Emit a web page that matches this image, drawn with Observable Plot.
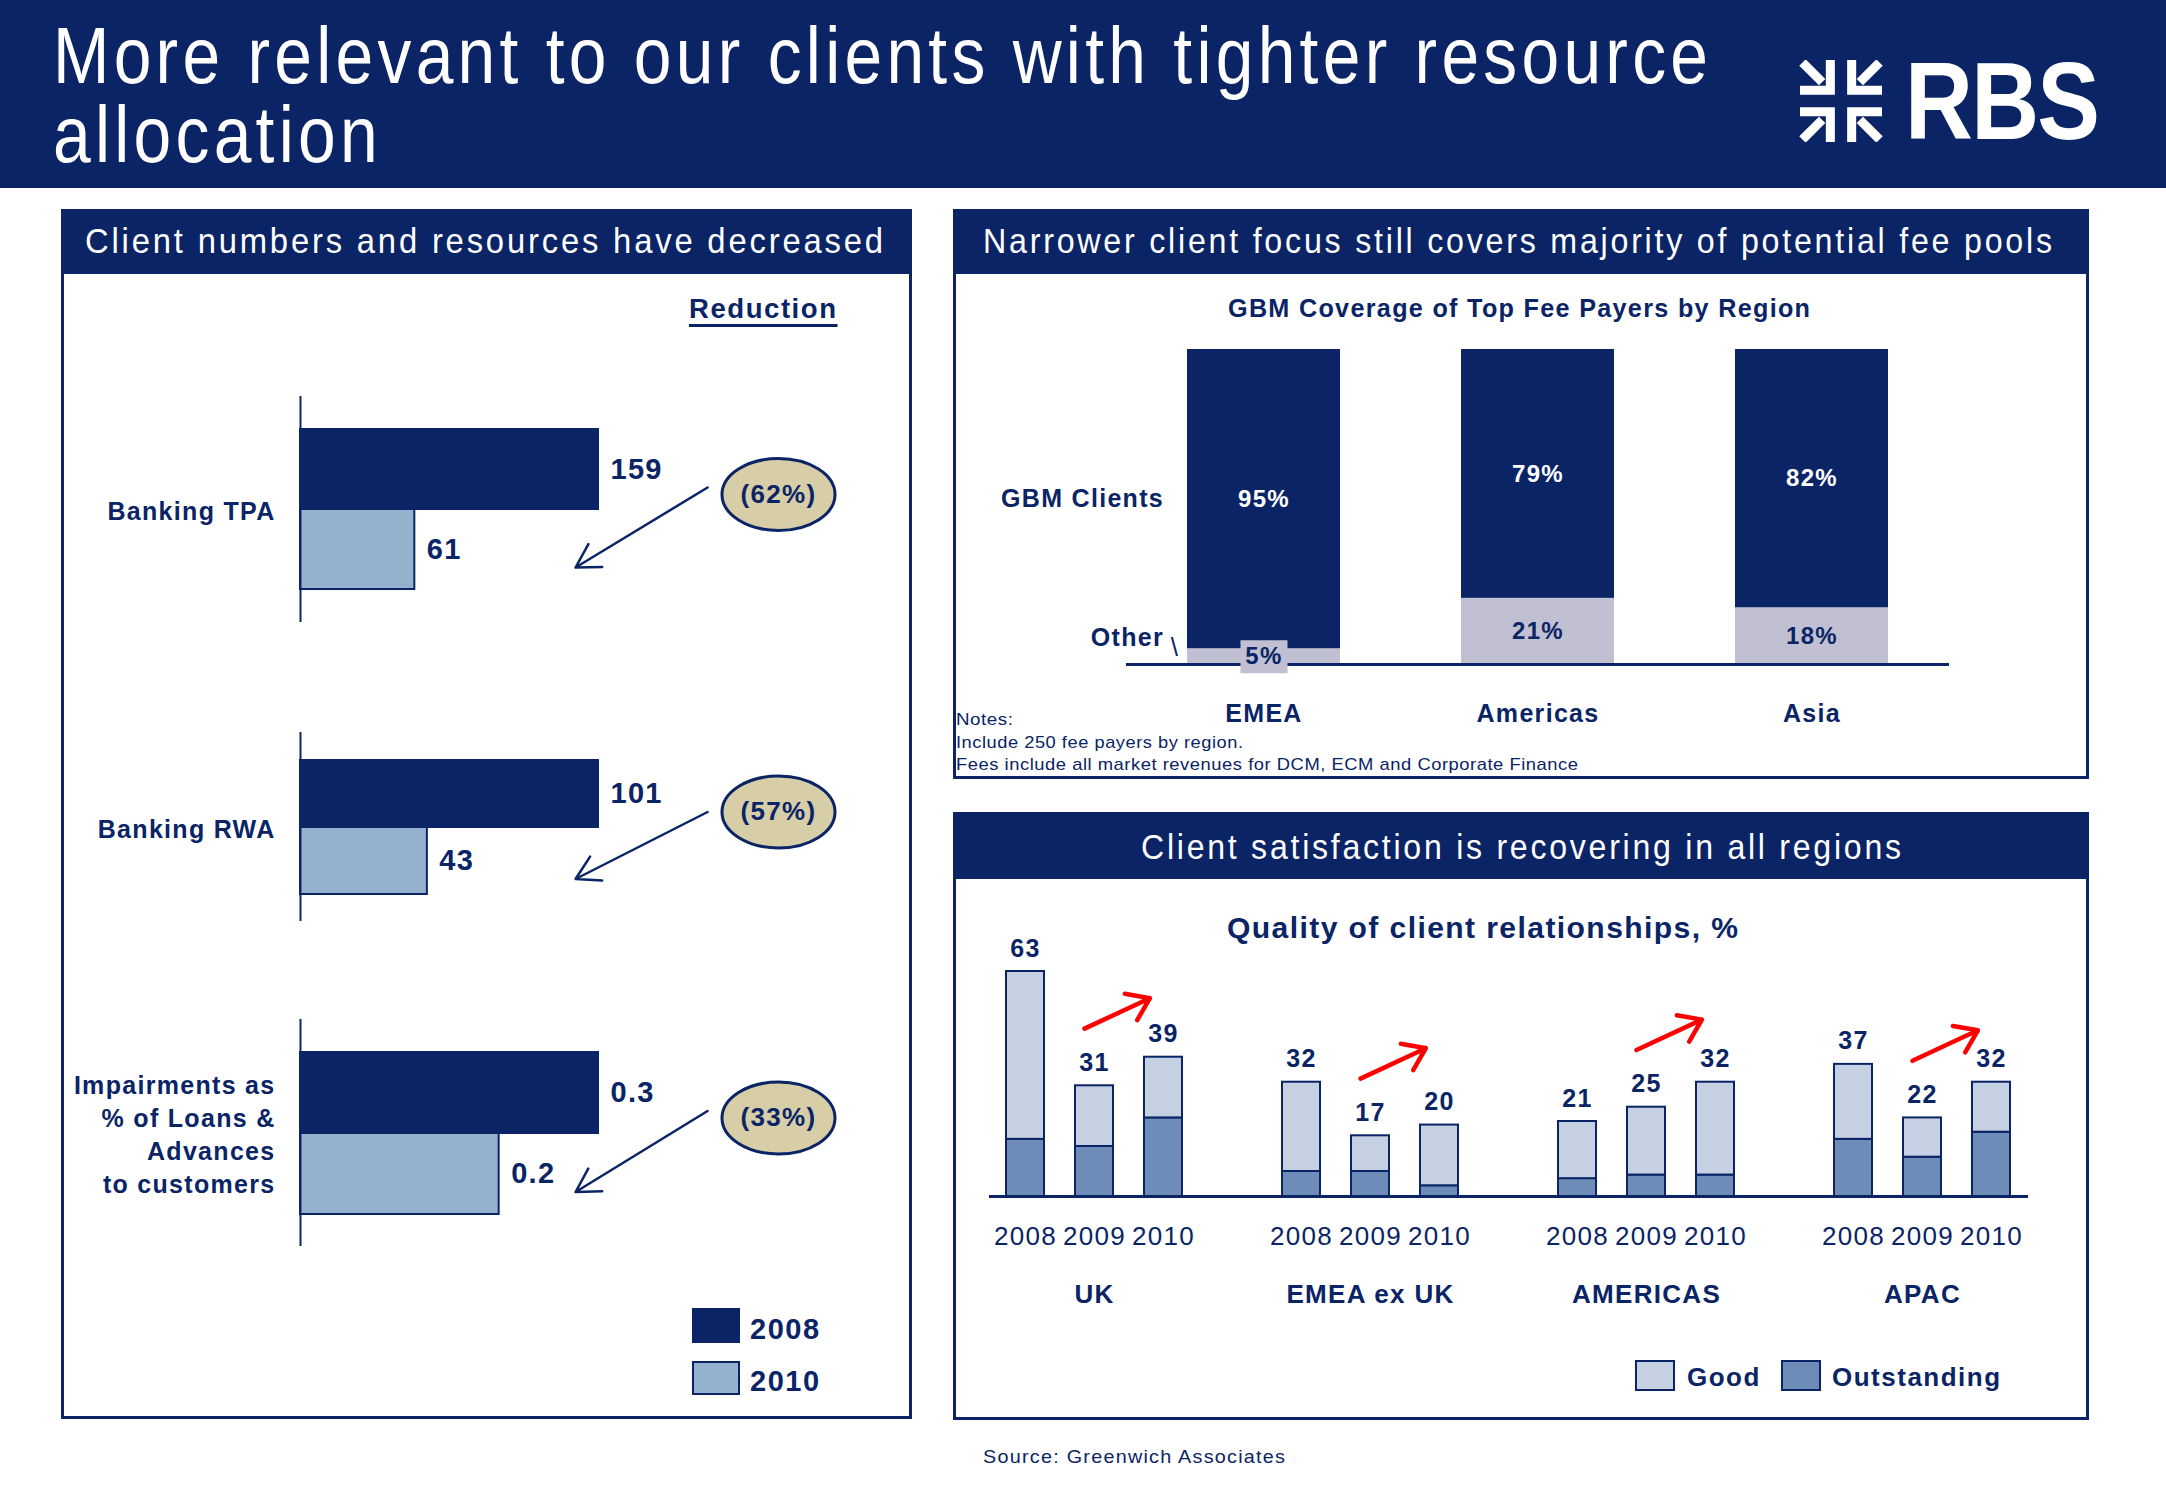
<!DOCTYPE html>
<html><head><meta charset="utf-8">
<script src="https://cdn.jsdelivr.net/npm/d3@7"></script>
<script src="https://cdn.jsdelivr.net/npm/@observablehq/plot@0.6"></script>
<style>
html,body{margin:0;padding:0}
body{width:2166px;height:1500px;background:#fff;position:relative;overflow:hidden;font-family:"Liberation Sans",Arial,sans-serif;color:#0a2466}
.abs{position:absolute}
.fit{position:absolute;white-space:nowrap;display:inline-block;transform-origin:0 50%}
.box{position:absolute;border:3px solid #0a2466;box-sizing:border-box}
.bar{position:absolute;background:#0a2466}
.sw{position:absolute;box-sizing:border-box}
</style></head><body>

<div class="bar" style="left:0;top:0;width:2166px;height:188px"></div>
<div class="fit" data-w="1655" style="left:53px;top:16px;font-size:79px;line-height:79px;color:#fff;letter-spacing:5px;transform-origin:0 0">More relevant to our clients with tighter resource<br>allocation</div>

<svg class="abs" style="left:1797px;top:60px" width="88" height="82" viewBox="0 0 100 100">
  <defs><g id="q" fill="none" stroke="#fff" stroke-width="11"><path d="M3,3 L27,27"/><path d="M0,37 H37 V0"/></g></defs>
  <use href="#q"/>
  <use href="#q" transform="translate(100,0) scale(-1,1)"/>
  <use href="#q" transform="translate(0,100) scale(1,-1)"/>
  <use href="#q" transform="translate(100,100) scale(-1,-1)"/>
</svg>
<div class="fit" data-w="195" style="left:1905px;top:47px;font-size:109px;line-height:109px;color:#fff;font-weight:bold;letter-spacing:-2px">RBS</div>

<!-- panels -->
<div class="box" style="left:61px;top:209px;width:851px;height:1210px"></div>
<div class="bar" style="left:61px;top:209px;width:851px;height:65px"></div>
<div class="fit" data-w="798" style="left:85px;top:223px;font-size:35px;line-height:35px;color:#fff;letter-spacing:3px">Client numbers and resources have decreased</div>

<div class="box" style="left:953px;top:209px;width:1136px;height:570px"></div>
<div class="bar" style="left:953px;top:209px;width:1136px;height:65px"></div>
<div class="fit" data-w="1069" style="left:983px;top:223px;font-size:35px;line-height:35px;color:#fff;letter-spacing:3px">Narrower client focus still covers majority of potential fee pools</div>

<div class="box" style="left:953px;top:812px;width:1136px;height:608px"></div>
<div class="bar" style="left:953px;top:812px;width:1136px;height:67px"></div>
<div class="fit" data-w="760" style="left:1141px;top:829px;font-size:35px;line-height:35px;color:#fff;letter-spacing:3px">Client satisfaction is recovering in all regions</div>

<!-- left panel extras -->
<div class="fit" data-w="147" style="left:689px;top:296px;font-size:27px;line-height:27px;font-weight:bold;letter-spacing:1.5px;text-decoration:underline;text-decoration-thickness:3px;text-underline-offset:6px">Reduction</div>
<div class="sw" style="left:692px;top:1308px;width:48px;height:35px;background:#0a2466"></div>
<div class="sw" style="left:692px;top:1361px;width:48px;height:34px;background:#94b1cd;border:2px solid #0a2466"></div>
<div class="abs" id="lg1" style="left:750px;top:1315px;font-size:29px;line-height:29px;font-weight:bold;letter-spacing:1.5px"></div>
<div class="abs" id="lg2" style="left:750px;top:1367px;font-size:29px;line-height:29px;font-weight:bold;letter-spacing:1.5px"></div>

<!-- top right extras -->
<div class="fit" data-w="582" style="left:1228px;top:296px;font-size:25px;line-height:25px;font-weight:bold;letter-spacing:1.3px">GBM Coverage of Top Fee Payers by Region</div>
<div class="fit" data-w="57" style="left:956px;top:711px;font-size:17px;line-height:17px;letter-spacing:0.5px">Notes:</div>
<div class="fit" data-w="287" style="left:956px;top:734px;font-size:17px;line-height:17px;letter-spacing:0.5px">Include 250 fee payers by region.</div>
<div class="fit" data-w="622" style="left:956px;top:756px;font-size:17px;line-height:17px;letter-spacing:0.5px">Fees include all market revenues for DCM, ECM and Corporate Finance</div>

<!-- bottom right extras -->
<div class="fit" data-w="511" style="left:1227px;top:913px;font-size:30px;line-height:30px;font-weight:bold;letter-spacing:1.4px">Quality of client relationships, %</div>
<div class="sw" style="left:1635px;top:1360px;width:40px;height:31px;background:#c5d0e3;border:2px solid #0a2466"></div>
<div class="sw" style="left:1781px;top:1360px;width:40px;height:31px;background:#6e8cb8;border:2px solid #0a2466"></div>
<div class="abs" id="lg3" style="left:1687px;top:1364px;font-size:26px;line-height:26px;font-weight:bold;letter-spacing:1.5px"></div>
<div class="abs" id="lg4" style="left:1832px;top:1364px;font-size:26px;line-height:26px;font-weight:bold;letter-spacing:1.5px"></div>

<div class="fit" data-w="302" style="left:983px;top:1447px;font-size:19px;line-height:19px;letter-spacing:1.2px">Source: Greenwich Associates</div>

<script>
// ---------- DATA ----------
// Left panel: client numbers and resources
const metrics = ["Banking TPA", "Banking RWA", "Impairments as\n% of Loans &\nAdvances\nto customers"];
const barYears = ["2008", "2010"];
const values2008 = [159, 101, 0.3];
const values2010 = [61, 43, 0.2];
const reductions = ["(62%)", "(57%)", "(33%)"];

// Top right: GBM coverage of top fee payers
const feeRegions = ["EMEA", "Americas", "Asia"];
const segments = ["Other", "GBM Clients"];
const otherShare = [5, 21, 18];
const gbmShare = [95, 79, 82];

// Bottom right: quality of client relationships, %
const satRegions = ["UK", "EMEA ex UK", "AMERICAS", "APAC"];
const satYears = ["2008", "2009", "2010"];
const kinds = ["Outstanding", "Good"];
const totalUK = [63, 31, 39], totalEMEA = [32, 17, 20], totalAM = [21, 25, 32], totalAPAC = [37, 22, 32];
const outUK = [16, 14, 22], outEMEA = [7, 7, 3], outAM = [5, 6, 6], outAPAC = [16, 11, 18];
const satTotals = [totalUK, totalEMEA, totalAM, totalAPAC];
const satOutstanding = [outUK, outEMEA, outAM, outAPAC];

// ---------- STYLE ----------
const navy = "#0a2466", light = "#94b1cd", tan = "#d7cda6", grey = "#c1c0d3";
const goodC = "#c5d0e3", outC = "#6e8cb8", red = "#ff0000";
const baseStyle = {background: "transparent", fontFamily: "'Liberation Sans', Arial, sans-serif", color: navy, letterSpacing: "1.3px", overflow: "visible"};

document.getElementById("lg1").textContent = barYears[0];
document.getElementById("lg2").textContent = barYears[1];
document.getElementById("lg3").textContent = kinds[1];
document.getElementById("lg4").textContent = kinds[0];

function place(node, left, top, w, h) {
  const d = document.createElement("div");
  d.style.cssText = `position:absolute;left:${left}px;top:${top}px;width:${w}px;height:${h}px`;
  d.appendChild(node);
  document.body.appendChild(d);
}

const k = 0.5523;
const ellipseSymbol = {draw(ctx, size) {
  const r = Math.sqrt(size / Math.PI), rx = r * 1.57, ry = r;
  ctx.moveTo(rx, 0);
  ctx.bezierCurveTo(rx, ry * k, rx * k, ry, 0, ry);
  ctx.bezierCurveTo(-rx * k, ry, -rx, ry * k, -rx, 0);
  ctx.bezierCurveTo(-rx, -ry * k, -rx * k, -ry, 0, -ry);
  ctx.bezierCurveTo(rx * k, -ry, rx, -ry * k, rx, 0);
  ctx.closePath();
}};
const boxSymbol = {draw(ctx) { ctx.rect(-23.5, -16.5, 47, 33); }};

// ---------- LEFT PANEL ----------
const leftTops = [396, 732, 1019], leftHeights = [226, 189, 227];
metrics.forEach((m, i) => {
  const rows = [{year: barYears[0], value: values2008[i]}, {year: barYears[1], value: values2010[i]}];
  const vmax = values2008[i];
  const p = Plot.plot({
    width: 851, height: leftHeights[i],
    marginLeft: 239, marginRight: 314, marginTop: 0, marginBottom: 0,
    x: {domain: [0, vmax], axis: null},
    y: {domain: barYears, paddingInner: 0, paddingOuter: 0.4, axis: null},
    color: {type: "identity"},
    style: baseStyle,
    marks: [
      Plot.barX(rows, {x: "value", y: "year", fill: d => d.year === barYears[0] ? navy : light, stroke: navy, strokeWidth: 2}),
      Plot.ruleX([0], {stroke: navy, strokeWidth: 2}),
      Plot.text(rows, {x: "value", y: "year", text: d => String(d.value), textAnchor: "start", dx: 12, fontSize: 29, fontWeight: "bold", fill: navy}),
      Plot.text([m], {frameAnchor: "left", text: d => d, textAnchor: "end", dx: -25, fontSize: 25, fontWeight: "bold", fill: navy, lineHeight: 1.32}),
      Plot.arrow([vmax], {x1: d => d * 1.366, x2: d => d * 0.923, y1: () => barYears[0], y2: () => barYears[1], dy: 18, stroke: navy, strokeWidth: 2.5, headLength: 16}),
      Plot.dot([reductions[i]], {frameAnchor: "right", dx: 180, dy: -15, symbol: ellipseSymbol, r: 36, fill: tan, stroke: navy, strokeWidth: 3}),
      Plot.text([reductions[i]], {frameAnchor: "right", textAnchor: "middle", dx: 180, dy: -15, text: d => d, fontSize: 26, fontWeight: "bold", fill: navy})
    ]
  });
  place(p, 61, leftTops[i], 851, leftHeights[i]);
});

// ---------- TOP RIGHT ----------
const feeRows = feeRegions.flatMap((r, i) => [
  {region: r, segment: segments[0], value: otherShare[i]},
  {region: r, segment: segments[1], value: gbmShare[i]}
]);
const feePlot = Plot.plot({
  width: 1136, height: 505,
  marginLeft: 173, marginRight: 140, marginTop: 75, marginBottom: 115,
  x: {domain: feeRegions, paddingInner: 0.44, paddingOuter: 0.22, axis: null},
  y: {domain: [0, 100], axis: null},
  color: {type: "identity"},
  style: baseStyle,
  marks: [
    Plot.barY(feeRows, Plot.stackY({x: "region", y: "value", fill: d => d.segment === segments[0] ? grey : navy})),
    Plot.ruleY([0], {stroke: navy, strokeWidth: 3}),
    Plot.dot(feeRows.filter(d => d.segment === segments[0] && d.value < 10), Plot.stackY({x: "region", y: "value", symbol: boxSymbol, fill: grey})),
    Plot.text(feeRows, Plot.stackY({x: "region", y: "value", text: d => d.value + "%", fill: d => d.segment === segments[0] ? navy : "white", fontSize: 24, fontWeight: "bold"})),
    Plot.text([segments[1]], {x: () => feeRegions[0], y: () => otherShare[0] + gbmShare[0] / 2, text: d => d, textAnchor: "end", dx: -100, fontSize: 25, fontWeight: "bold", fill: navy}),
    Plot.text([segments[0]], {x: () => feeRegions[0], y: () => 0, text: d => d, textAnchor: "end", dx: -100, dy: -27, fontSize: 25, fontWeight: "bold", fill: navy}),
    Plot.text(["\\"], {x: () => feeRegions[0], y: () => 0, text: d => d, dx: -89, dy: -17, fontSize: 26, fill: navy}),
    Plot.text(feeRegions, {x: d => d, text: d => d, frameAnchor: "bottom", dy: 57, fontSize: 25, fontWeight: "bold", fill: navy})
  ]
});
place(feePlot, 953, 274, 1136, 505);

// ---------- BOTTOM RIGHT ----------
const slots = [];
satRegions.forEach((r, i) => {
  if (i) slots.push(" ".repeat(i));
  satYears.forEach(y => slots.push(r + " " + y));
});
const satRows = satRegions.flatMap((r, i) => satYears.flatMap((y, j) => [
  {key: r + " " + y, kind: kinds[0], value: satOutstanding[i][j]},
  {key: r + " " + y, kind: kinds[1], value: satTotals[i][j] - satOutstanding[i][j]}
]));
const satTotalRows = satRegions.flatMap((r, i) => satYears.map((y, j) => ({key: r + " " + y, year: y, total: satTotals[i][j]})));
const trendRows = satRegions.map((r, i) => ({from: r + " " + satYears[1], to: r + " " + satYears[2], base: satTotals[i][1]}));

const satPlot = Plot.plot({
  width: 1136, height: 461,
  marginLeft: 36, marginRight: 61, marginTop: 67, marginBottom: 144,
  x: {domain: slots, paddingInner: 0.445, paddingOuter: 0.178, axis: null},
  y: {domain: [0, 70], axis: null},
  color: {type: "identity"},
  style: baseStyle,
  marks: [
    Plot.barY(satRows, Plot.stackY({x: "key", y: "value", fill: d => d.kind === kinds[0] ? outC : goodC, stroke: navy, strokeWidth: 2})),
    Plot.ruleY([0], {stroke: navy, strokeWidth: 3}),
    Plot.text(satTotalRows, {x: "key", y: "total", text: d => String(d.total), dy: -23, fontSize: 25, fontWeight: "bold", fill: navy}),
    Plot.text(satTotalRows, {x: "key", text: "year", frameAnchor: "bottom", dy: 48, fontSize: 26, fill: navy}),
    Plot.text(satRegions, {x: r => r + " " + satYears[1], text: d => d, frameAnchor: "bottom", dy: 106, fontSize: 26, fontWeight: "bold", fill: navy}),
    Plot.arrow(trendRows, {x1: "from", x2: "to", y1: d => d.base + 16, y2: d => d.base + 25, dx: -10, insetEnd: 4, stroke: red, strokeWidth: 4.5, headLength: 15, headAngle: 70})
  ]
});
place(satPlot, 953, 879, 1136, 461);

// ---------- fit condensed text to reference widths ----------
document.querySelectorAll(".fit").forEach(el => {
  const target = +el.dataset.w;
  const w = el.getBoundingClientRect().width;
  const ls = parseFloat(getComputedStyle(el).letterSpacing) || 0;
  el.style.transform = `scaleX(${target / (w - ls)})`;
});
</script>
</body></html>
